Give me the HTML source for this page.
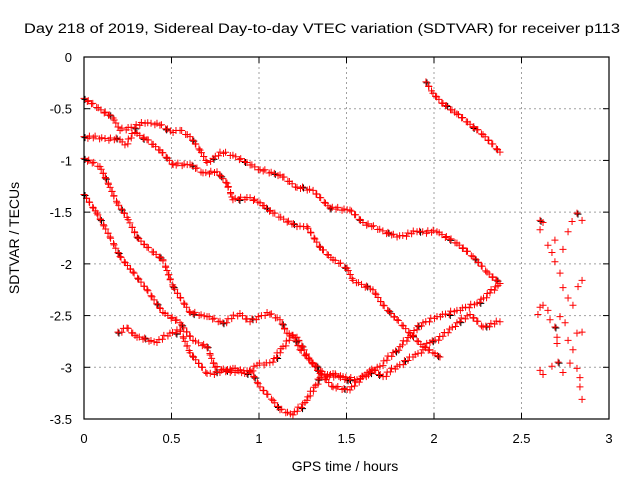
<!DOCTYPE html>
<html><head><meta charset="utf-8"><style>body{margin:0;background:#fff}svg{display:block}</style></head>
<body>
<svg id="chart" width="640" height="480" xmlns="http://www.w3.org/2000/svg" font-family="Liberation Sans, sans-serif">
<rect width="640" height="480" fill="#fff"/>
<text x="322" y="33" font-size="13.5" text-anchor="middle" textLength="596" lengthAdjust="spacingAndGlyphs">Day 218 of 2019, Sidereal Day-to-day VTEC variation (SDTVAR) for receiver p113</text>
<text x="345" y="471" font-size="14" text-anchor="middle">GPS time / hours</text>
<text x="0" y="0" font-size="14" text-anchor="middle" transform="translate(19,238) rotate(-90)">SDTVAR / TECUs</text>
<g id="grid"></g><g id="marks"></g><g id="axes"></g>
</svg>
<script>
const xTicks=[0,0.5,1,1.5,2,2.5,3];
const xTickLabels=["0","0.5","1","1.5","2","2.5","3"];
const yTicks=[0,-0.5,-1,-1.5,-2,-2.5,-3,-3.5];
const yTickLabels=["0","-0.5","-1","-1.5","-2","-2.5","-3","-3.5"];
const aX=[0,.166,.206,.349,.417,.509,.549,.606,.663,.703,.737,.777,.851,.931,1.006,1.12,1.217,1.309,1.406,1.52,1.594,1.789,1.903,2.017,2.131,2.223,2.303,2.377];
const aY=[-.40,-.59,-.71,-.64,-.64,-.73,-.71,-.77,-.90,-1.02,-.98,-.92,-.95,-1.02,-1.09,-1.14,-1.26,-1.29,-1.46,-1.48,-1.60,-1.74,-1.69,-1.69,-1.80,-1.93,-2.08,-2.19];
const bX=[0,.206,.234,.291,.36,.434,.509,.606,.68,.76,.817,.851,.949,1.006,1.08,1.217,1.274,1.349,1.423,1.503,1.537,1.651,1.709,1.789,1.863,1.937,1.994,2.034];
const bY=[-.77,-.80,-.85,-.73,-.80,-.90,-1.04,-1.04,-1.12,-1.11,-1.22,-1.38,-1.36,-1.41,-1.51,-1.64,-1.64,-1.84,-1.96,-2.04,-2.16,-2.25,-2.40,-2.54,-2.67,-2.80,-2.86,-2.90];
const cX=[0,.091,.149,.189,.246,.303,.36,.451,.509,.606,.703,.794,.891,.949,1.046,1.12,1.16,1.217,1.291,1.349,1.423,1.52,1.594,1.691,1.806,1.937,2.017,2.131,2.246,2.32,2.377];
const cY=[-.98,-1.06,-1.26,-1.41,-1.55,-1.74,-1.84,-1.96,-2.22,-2.47,-2.51,-2.57,-2.48,-2.56,-2.47,-2.54,-2.67,-2.71,-2.93,-3.06,-3.19,-3.22,-3.09,-2.99,-2.80,-2.57,-2.51,-2.45,-2.38,-2.28,-2.19];
const dX=[0,.074,.149,.206,.28,.36,.451,.549,.623,.703,.749,.863,.949,1.006,1.08,1.12,1.194,1.274,1.349,1.423,1.503];
const dY=[-1.33,-1.51,-1.74,-1.93,-2.08,-2.25,-2.47,-2.57,-2.74,-2.80,-3.00,-3.05,-3.03,-3.19,-3.32,-3.41,-3.46,-3.32,-3.10,-3.06,-3.12];
const eX=[.194,.246,.303,.417,.491,.549,.606,.703,.777,.851,.931,.989,1.08,1.137,1.194,1.234,1.309,1.389,1.48,1.56,1.651,1.709,1.789,1.88,1.937,1.977,2.051,2.131,2.206,2.28,2.377];
const eY=[-2.66,-2.62,-2.71,-2.76,-2.67,-2.64,-2.86,-3.06,-3.05,-3.01,-3.06,-2.98,-2.95,-2.80,-2.69,-2.83,-2.96,-3.09,-3.09,-3.12,-3.03,-3.09,-2.99,-2.90,-2.83,-2.76,-2.70,-2.57,-2.49,-2.61,-2.56];
const fX=[1.954,1.994,2.051,2.131,2.206,2.28,2.377];
const fY=[-.24,-.35,-.45,-.55,-.65,-.75,-.92];
const gX=[2.606,2.623,2.606,2.651,2.674,2.691,2.72,2.691,2.737,2.766,2.789,2.817,2.846,2.737,2.766,2.794,2.823,2.846,2.606,2.623,2.651,2.663,2.691,2.72,2.749,2.703,2.766,2.794,2.817,2.846,2.606,2.623,2.674,2.709,2.737,2.777,2.817,2.834,2.834,2.846,2.594,2.703];
const gY=[-1.58,-1.60,-1.67,-1.82,-1.89,-1.98,-2.09,-1.77,-1.86,-1.69,-1.59,-1.51,-1.58,-2.23,-2.33,-2.40,-2.22,-2.16,-2.42,-2.40,-2.45,-2.54,-2.61,-2.51,-2.57,-2.71,-2.74,-2.83,-2.67,-2.66,-3.03,-3.07,-2.99,-2.95,-3.05,-2.96,-3.01,-3.10,-3.19,-3.31,-2.49,-2.77];

const L=84,R=609,T=57,B=419;
const sx=v=>L+(v-0)/(3-0)*(R-L);
const sy=v=>T+(0-v)/(0-(-3.5))*(B-T);
const NS="http://www.w3.org/2000/svg";
const grid=document.getElementById('grid'),marks=document.getElementById('marks'),axes=document.getElementById('axes');
function mk(tag,attrs,parent){const e=document.createElementNS(NS,tag);for(const k in attrs)e.setAttribute(k,attrs[k]);parent.appendChild(e);return e;}
xTicks.forEach((t,i)=>{
  const x=sx(t);
  if(i>0&&i<xTicks.length-1){const g=mk('line',{x1:x,x2:x,y1:T,y2:B,stroke:'#a0a0a0','stroke-dasharray':'2,3'},grid);
  
  }
  mk('line',{x1:x,x2:x,y1:B,y2:B-6,stroke:'#000'},axes);
  mk('line',{x1:x,x2:x,y1:T,y2:T+6,stroke:'#000'},axes);
  const tx=mk('text',{x:x,y:443,'font-size':13,'text-anchor':'middle'},axes);tx.textContent=xTickLabels[i];
  
  
});
yTicks.forEach((t,i)=>{
  const y=sy(t);
  if(i>0&&i<yTicks.length-1){const g=mk('line',{x1:L,x2:R,y1:y,y2:y,stroke:'#a0a0a0','stroke-dasharray':'2,3'},grid);
  
  }
  mk('line',{x1:L,x2:L+6,y1:y,y2:y,stroke:'#000'},axes);
  mk('line',{x1:R,x2:R-6,y1:y,y2:y,stroke:'#000'},axes);
  const tx=mk('text',{x:72,y:y+5,'font-size':13,'text-anchor':'end'},axes);tx.textContent=yTickLabels[i];
  
  
});
const box=mk('rect',{x:L,y:T,width:R-L,height:B-T,fill:'none',stroke:'#000','stroke-width':1.2},axes);



function plus(g,x,y,col){mk('path',{d:`M${x-3.5},${y}h7M${x},${y-3.5}v7`,stroke:col,'stroke-width':1,fill:'none'},g);}
const wob=[0,1.5,-1,0.5,-1.5,1,-0.5];
function series(xs,ys,name,connect){
  const g=mk('g',{},marks);
  
  
  const pts=[];
  for(let i=0;i<xs.length;i++){
    const x=sx(xs[i]),y=sy(ys[i]);
    if(connect&&i>0){const px=sx(xs[i-1]),py=sy(ys[i-1]);const d=Math.hypot(x-px,y-py);const n=Math.max(1,Math.round(d/3));
      for(let k=1;k<n;k++){const w=wob[(pts.length)%wob.length];pts.push([px+(x-px)*k/n+w*0.6,py+(y-py)*k/n+w]);}}
    pts.push([x,y]);
  }
  pts.forEach((p,i)=>{if(i%11===0)plus(g,p[0]+1,p[1]+1,'#000');});
  pts.forEach(p=>plus(g,p[0],p[1],'#ff0000'));
}
series(aX,aY,'series-a',true);
series(bX,bY,'series-b',true);
series(cX,cY,'series-c',true);
series(dX,dY,'series-d',true);
series(eX,eY,'series-e',true);
series(fX,fY,'series-f',true);
series(gX,gY,'series-g-scatter',false);
</script>
</body></html>
